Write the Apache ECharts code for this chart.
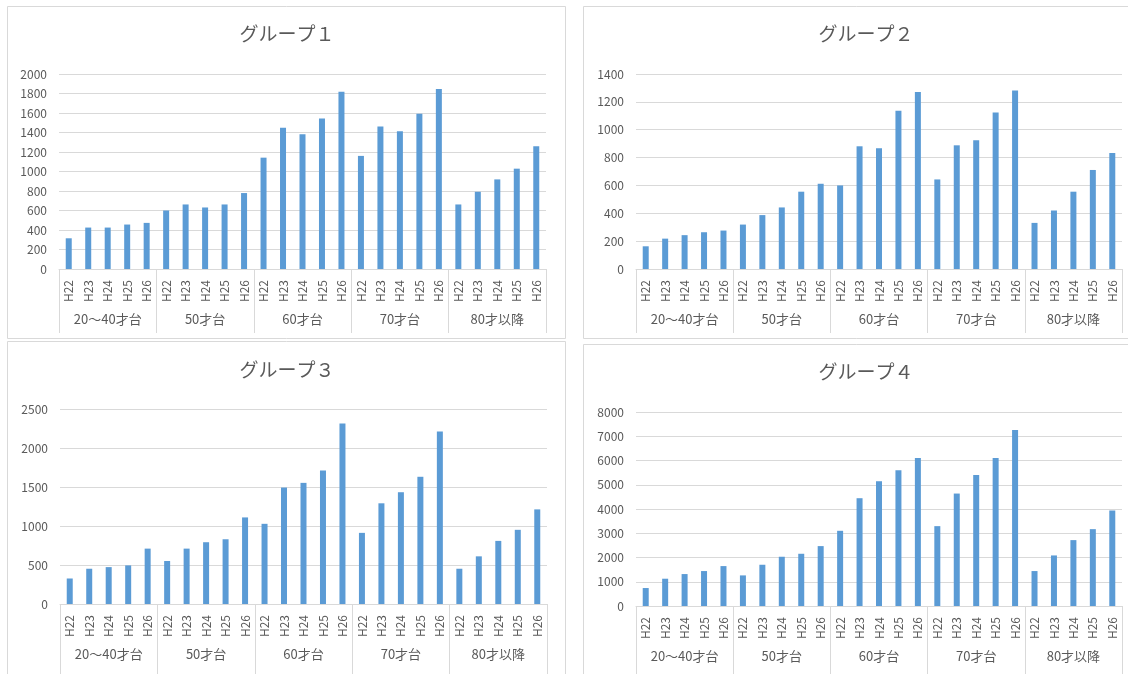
<!DOCTYPE html>
<html>
<head>
<meta charset="utf-8">
<script src="https://cdn.jsdelivr.net/npm/echarts@6/dist/echarts.min.js"></script>
<style>
html,body{margin:0;padding:0;background:#fff;}
#c{width:1128px;height:674px;}
</style>
</head>
<body>
<div id="c"></div>
<script>
const groups = ['20〜40才台', '50才台', '60才台', '70才台', '80才以降'];
const years = ['H22', 'H23', 'H24', 'H25', 'H26'];
const titles = ['グループ１', 'グループ２', 'グループ３', 'グループ４'];

const group1 = [315, 425, 425, 456, 473,  600, 662, 631, 662, 779,  1142, 1448, 1383, 1544, 1818,  1160, 1461, 1413, 1592, 1846,  662, 792, 919, 1029, 1259];
const group2 = [163, 218, 243, 264, 276,  319, 387, 442, 555, 612,  600, 881, 867, 1136, 1270,  643, 888, 924, 1124, 1282,  331, 420, 555, 711, 833];
const group3 = [327, 452, 473, 495, 710,  551, 710, 792, 830, 1110,  1028, 1493, 1553, 1713, 2315,  912, 1291, 1433, 1631, 2212,  452, 611, 809, 951, 1213];
const group4 = [741, 1125, 1317, 1441, 1646,  1262, 1701, 2031, 2154, 2470,  3101, 4445, 5145, 5598, 6105,  3293, 4637, 5406, 6105, 7258,  1441, 2085, 2717, 3169, 3938];

const yMax = [2000, 1400, 2500, 8000];
const yStep = [200, 200, 500, 1000];

const seriesData = [group1, group2, group3, group4];
const yearCats = [];
groups.forEach(() => years.forEach(y => yearCats.push(y)));

const FONT = '"Noto Sans CJK JP", "Noto Sans", sans-serif';
const TXT = '#595959';
const LINE = '#d9d9d9';

const grids = [
  {left: 59, top: 74, width: 487, height: 195},
  {left: 636, top: 74, width: 486, height: 195},
  {left: 60, top: 409, width: 487, height: 195},
  {left: 636, top: 412, width: 486, height: 194}
];
const titlePos = [
  {x: 287, y: 24}, {x: 866, y: 24}, {x: 287, y: 360}, {x: 866, y: 362}
];
const sepLen = [64, 64, 72, 72];

const option = {
  backgroundColor: '#fff',
  animation: false,
  textStyle: {fontFamily: FONT},
  title: titles.map((t, i) => ({
    text: t,
    left: titlePos[i].x,
    top: titlePos[i].y,
    textAlign: 'center',
    padding: 0,
    textStyle: {fontFamily: FONT, fontSize: 19, fontWeight: 'normal', color: TXT}
  })),
  graphic: [
    {type: 'rect', shape: {x: 7.5, y: 6.5, width: 558, height: 332}, style: {fill: 'none', stroke: LINE, lineWidth: 1}},
    {type: 'rect', shape: {x: 583.5, y: 6.5, width: 580, height: 332}, style: {fill: 'none', stroke: LINE, lineWidth: 1}},
    {type: 'rect', shape: {x: 7.5, y: 341.5, width: 558, height: 400}, style: {fill: 'none', stroke: LINE, lineWidth: 1}},
    {type: 'rect', shape: {x: 583.5, y: 344.5, width: 580, height: 400}, style: {fill: 'none', stroke: LINE, lineWidth: 1}}
  ],
  grid: grids.map(g => Object.assign({containLabel: false}, g)),
  xAxis: [],
  yAxis: [],
  series: []
};

for (let i = 0; i < 4; i++) {
  option.xAxis.push({
    type: 'category', gridIndex: i, position: 'bottom', offset: 0,
    data: yearCats,
    axisLine: {show: true, lineStyle: {color: LINE, width: 1}},
    axisTick: {show: false},
    axisLabel: {interval: 0, rotate: 90, margin: 11, fontSize: 12, color: TXT, fontFamily: FONT},
    splitLine: {show: false}
  });
  option.xAxis.push({
    type: 'category', gridIndex: i, position: 'bottom', offset: 0,
    data: groups,
    axisLine: {show: false},
    axisTick: {show: true, interval: 0, length: sepLen[i], lineStyle: {color: LINE, width: 1}},
    axisLabel: {interval: 0, margin: 44, fontSize: 13, color: TXT, fontFamily: FONT},
    splitLine: {show: false}
  });
  option.yAxis.push({
    type: 'value', gridIndex: i, min: 0, max: yMax[i], interval: yStep[i],
    axisLine: {show: false}, axisTick: {show: false},
    axisLabel: {margin: 12, fontSize: 12, color: TXT, fontFamily: FONT, formatter: v => String(v)},
    splitLine: {show: true, lineStyle: {color: LINE, width: 1}}
  });
  option.series.push({
    type: 'bar', xAxisIndex: i * 2, yAxisIndex: i,
    data: seriesData[i], barWidth: 6,
    itemStyle: {color: '#5B9BD5'}
  });
}

const chart = echarts.init(document.getElementById('c'));
chart.setOption(option);
</script>
</body>
</html>
